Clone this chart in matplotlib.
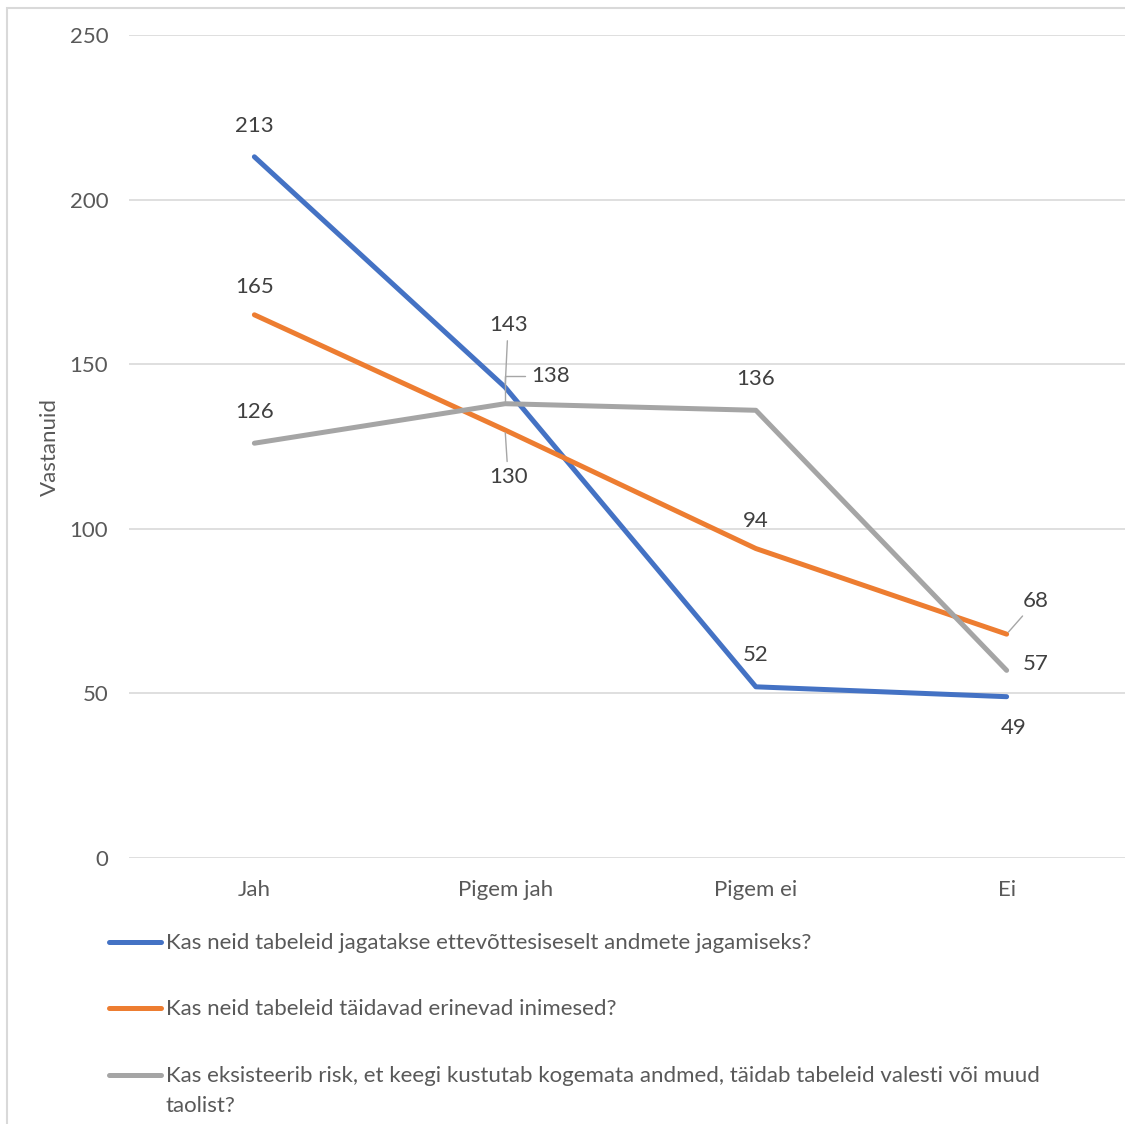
import matplotlib.pyplot as plt
from matplotlib.lines import Line2D
from matplotlib.patches import Rectangle

plt.rcParams['font.family'] = ['Lato', 'DejaVu Sans']

categories = ['Jah', 'Pigem jah', 'Pigem ei', 'Ei']
series_names = [
    'Kas neid tabeleid jagatakse ettevõttesiseselt andmete jagamiseks?',
    'Kas neid tabeleid täidavad erinevad inimesed?',
    'Kas eksisteerib risk, et keegi kustutab kogemata andmed, täidab tabeleid valesti või muud\ntaolist?',
]
jagamine = [213, 143, 52, 49]
erinevad = [165, 130, 94, 68]
risk = [126, 138, 136, 57]

colors = ['#4472C4', '#ED7D31', '#A5A5A5']
text_c = '#595959'
grid_c = '#D9D9D9'
fs = 16

# label offsets in pixels (dx, dy) and leader line style (None = no leader)
straight = 'arc3'
bent = 'angle,angleA=0,angleB=90,rad=0'
offsets = [
    [(0, 31, None), (3, 62, straight), (0, 32, None), (7, -31, None)],
    [(0, 28, None), (3, -47, straight), (0, 28, None), (29, 33, straight)],
    [(0, 31, None), (45, 28, bent), (0, 31, None), (29, 6, None)],
]

fig = plt.figure(figsize=(11.25, 11.24), dpi=100)
ax = fig.add_axes([129 / 1125, 266 / 1124, 1003 / 1125, 823 / 1124])

fig.add_artist(Rectangle((7 / 1125, -0.01), 1.2, 1 - 8 / 1124 + 0.01,
                         transform=fig.transFigure, fill=False,
                         edgecolor=grid_c, lw=1.5))

x = range(len(categories))
px = 0.72
for vals, col, offs in zip([jagamine, erinevad, risk], colors, offsets):
    ax.plot(x, vals, color=col, lw=3.6, solid_capstyle='round', zorder=3)
    for xi, v, (dx, dy, lead) in zip(x, vals, offs):
        props = None
        if lead:
            props = dict(arrowstyle='-', color='#A6A6A6', lw=1,
                         shrinkA=2, shrinkB=2, connectionstyle=lead)
        ax.annotate(str(v), (xi, v), xytext=(dx * px, dy * px),
                    textcoords='offset points', ha='center', va='center',
                    fontsize=fs, color='#404040', arrowprops=props, zorder=4)

ax.set_xlim(-0.5, 3.5)
ax.set_ylim(0, 250)
ax.set_yticks(range(0, 251, 50))
ax.set_xticks(list(x))
ax.set_xticklabels(categories)
ax.grid(axis='y', color=grid_c, lw=1.2)
ax.set_axisbelow(True)
for s in ax.spines.values():
    s.set_visible(False)
ax.tick_params(length=0, labelsize=fs, colors=text_c)
ax.tick_params(axis='y', pad=15)
ax.tick_params(axis='x', pad=16)
ax.set_ylabel('Vastanuid', fontsize=fs, color=text_c, labelpad=7)

# legend rows
rows_y = [942, 1008, 1075]
for name, col, ry in zip(series_names, colors, rows_y):
    yf = 1 - ry / 1124
    fig.add_artist(Line2D([109 / 1125, 161 / 1125], [yf, yf], color=col,
                          lw=3.6, solid_capstyle='round',
                          transform=fig.transFigure))
    fig.text(166 / 1125, yf + 9 / 1124, name, fontsize=fs, color=text_c,
             ha='left', va='top', linespacing=1.6)

fig.savefig('out.png', dpi=100)
